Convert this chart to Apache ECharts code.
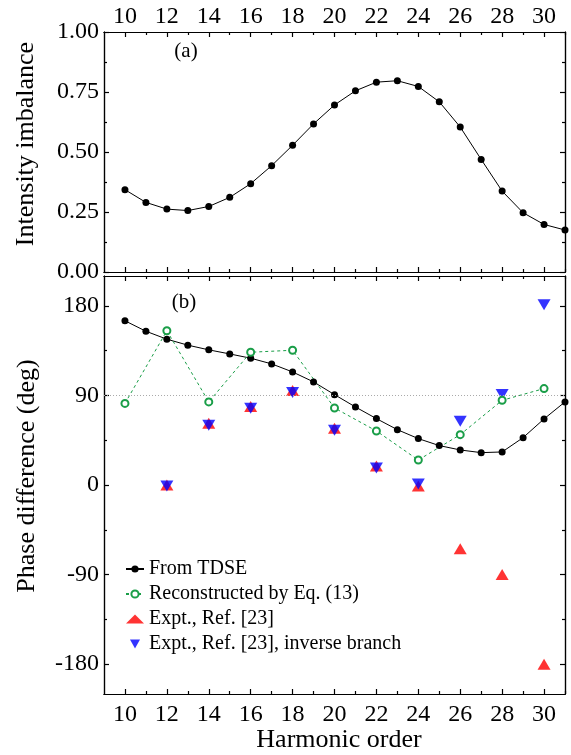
<!DOCTYPE html>
<html>
<head>
<meta charset="utf-8">
<script src="https://cdn.jsdelivr.net/npm/echarts@6/dist/echarts.min.js"></script>
<style>
  html, body { margin: 0; padding: 0; background: #fff; }
  #chart { width: 571px; height: 755px; }
</style>
</head>
<body>
<div id="chart"></div>
<script>
// harmonic orders used by the TDSE curves
var orders = [10, 11, 12, 13, 14, 15, 16, 17, 18, 19, 20, 21, 22, 23, 24, 25, 26, 27, 28, 29, 30, 31];
// panel (a): intensity imbalance
var imbalance = [0.343, 0.290, 0.262, 0.256, 0.273, 0.311, 0.368, 0.443, 0.528, 0.617, 0.696,
  0.755, 0.791, 0.797, 0.773, 0.709, 0.604, 0.469, 0.337, 0.247, 0.198, 0.175];
// panel (b): phase difference from TDSE
var tdsePhase = [165, 154.5, 146.5, 140.5, 135.8, 131.7, 127.4, 121.7, 113.6, 103.6, 90.8,
  78.4, 66.7, 55.6, 46.6, 39.6, 35.2, 32.5, 33.2, 47.6, 66.4, 83.5];
// reconstructed by Eq. (13), even orders
var evenOrders = [10, 12, 14, 16, 18, 20, 22, 24, 26, 28, 30];
var reconPhase = [82, 155, 83.5, 133.4, 135.4, 77.4, 54.3, 25.1, 50.6, 85.1, 96.9];
// experiment, Ref. [23]
var exptOrders = [12, 14, 16, 18, 20, 22, 24, 26, 28, 30];
var exptPhase = [0, 62, 79, 95, 57, 19, -1, -64, -90, -180];
var inversePhase = [-1, 60, 77, 93, 55, 17, 1, 64, 91, 181];

// ticks / labels
var xMajor = [10, 12, 14, 16, 18, 20, 22, 24, 26, 28, 30];
var xMinor = [11, 13, 15, 17, 19, 21, 23, 25, 27, 29, 31];
var yTopMajor = [0, 0.25, 0.5, 0.75, 1];
var yTopMinor = [0.125, 0.375, 0.625, 0.875];
var yBotMajor = [-180, -90, 0, 90, 180];
var yBotMinor = [-135, -45, 45, 135];

var FONT = 'Liberation Serif';

function pairs(xs, ys) {
  return xs.map(function (x, i) { return [x, ys[i]]; });
}

function xAx(grid, pos, ticks, len, labels, margin) {
  return {
    type: 'value', gridIndex: grid, position: pos, min: 9, max: 31,
    axisLine: { show: true, onZero: false, lineStyle: { color: '#000', width: 1.2 } },
    axisTick: { show: true, inside: true, length: len, customValues: ticks, lineStyle: { color: '#000', width: 1.2 } },
    axisLabel: labels ? { show: true, customValues: labels, margin: margin, fontFamily: FONT, fontSize: 24, color: '#000' } : { show: false },
    splitLine: { show: false }
  };
}

function yAx(grid, pos, min, max, ticks, len, labels, fmt) {
  return {
    type: 'value', gridIndex: grid, position: pos, min: min, max: max,
    axisLine: { show: true, onZero: false, lineStyle: { color: '#000', width: 1.2 } },
    axisTick: { show: true, inside: true, length: len, customValues: ticks, lineStyle: { color: '#000', width: 1.2 } },
    axisLabel: labels ? { show: true, customValues: labels, margin: 5, fontFamily: FONT, fontSize: 24, color: '#000', formatter: fmt } : { show: false },
    splitLine: { show: false }
  };
}

var chart = echarts.init(document.getElementById('chart'), null, { renderer: 'canvas' });

var option = {
  backgroundColor: '#ffffff',
  animation: false,
  grid: [
    { left: 104, right: 6, top: 32, height: 240 },
    { left: 104, right: 6, top: 276, height: 418 }
  ],
  xAxis: [
    xAx(0, 'top', xMajor, 5, xMajor, 3),
    xAx(0, 'top', xMinor, 3),
    xAx(0, 'bottom', xMajor, 5),
    xAx(0, 'bottom', xMinor, 3),
    xAx(1, 'top', xMajor, 5),
    xAx(1, 'top', xMinor, 3),
    xAx(1, 'bottom', xMajor, 5, xMajor, 9),
    xAx(1, 'bottom', xMinor, 3)
  ],
  yAxis: [
    yAx(0, 'left', 0, 1, yTopMajor, 5, yTopMajor, function (v) { return v.toFixed(2); }),
    yAx(0, 'left', 0, 1, yTopMinor, 3),
    yAx(0, 'right', 0, 1, yTopMajor, 5),
    yAx(0, 'right', 0, 1, yTopMinor, 3),
    yAx(1, 'left', -210, 210, yBotMajor, 5, yBotMajor, function (v) { return String(v); }),
    yAx(1, 'left', -210, 210, yBotMinor, 3),
    yAx(1, 'right', -210, 210, yBotMajor, 5),
    yAx(1, 'right', -210, 210, yBotMinor, 3)
  ],
  legend: {
    orient: 'vertical', left: 120, top: 554,
    itemWidth: 18, itemHeight: 9, itemGap: 5,
    textStyle: { fontFamily: FONT, fontSize: 20, color: '#000', lineHeight: 20 },
    data: ['From TDSE', 'Reconstructed by Eq. (13)', 'Expt., Ref. [23]', 'Expt., Ref. [23], inverse branch']
  },
  graphic: [
    { type: 'text', x: 26, y: 144, rotation: Math.PI / 2,
      style: { text: 'Intensity imbalance', font: '26px "Liberation Serif"', fill: '#000', align: 'center', verticalAlign: 'middle' } },
    { type: 'text', x: 27, y: 476, rotation: Math.PI / 2,
      style: { text: 'Phase difference (deg)', font: '26px "Liberation Serif"', fill: '#000', align: 'center', verticalAlign: 'middle' } },
    { type: 'text', x: 339, y: 740,
      style: { text: 'Harmonic order', font: '26px "Liberation Serif"', fill: '#000', align: 'center', verticalAlign: 'middle' } },
    { type: 'text', x: 186, y: 51,
      style: { text: '(a)', font: '21px "Liberation Serif"', fill: '#000', align: 'center', verticalAlign: 'middle' } },
    { type: 'text', x: 184, y: 302,
      style: { text: '(b)', font: '21px "Liberation Serif"', fill: '#000', align: 'center', verticalAlign: 'middle' } }
  ],
  series: [
    {
      name: 'From TDSE', type: 'line', xAxisIndex: 0, yAxisIndex: 0,
      data: pairs(orders, imbalance),
      symbol: 'circle', symbolSize: 7,
      itemStyle: { color: '#000' }, lineStyle: { color: '#000', width: 1 }
    },
    {
      name: 'From TDSE', type: 'line', xAxisIndex: 6, yAxisIndex: 4,
      data: pairs(orders, tdsePhase),
      symbol: 'circle', symbolSize: 7,
      itemStyle: { color: '#000' }, lineStyle: { color: '#000', width: 1 },
      markLine: {
        silent: true, symbol: 'none', label: { show: false },
        lineStyle: { color: '#aaa', type: [1, 2], width: 1 },
        data: [{ yAxis: 90 }]
      }
    },
    {
      name: 'Reconstructed by Eq. (13)', type: 'line', xAxisIndex: 6, yAxisIndex: 4,
      data: pairs(evenOrders, reconPhase),
      symbol: 'emptyCircle', symbolSize: 7,
      itemStyle: { color: '#1a9e48', borderWidth: 1.6 },
      lineStyle: { color: '#1a9e48', width: 1, type: [3, 3] }
    },
    {
      name: 'Expt., Ref. [23]', type: 'scatter', xAxisIndex: 6, yAxisIndex: 4,
      data: pairs(exptOrders, exptPhase),
      symbol: 'triangle', symbolSize: [13, 11],
      itemStyle: { color: '#ff0000' }
    },
    {
      name: 'Expt., Ref. [23], inverse branch', type: 'scatter', xAxisIndex: 6, yAxisIndex: 4,
      data: pairs(exptOrders, inversePhase),
      symbol: 'path://M0,0 L10,0 L5,9 Z', symbolSize: [13, 11],
      itemStyle: { color: '#0000ff' }
    }
  ]
};

chart.setOption(option);
</script>
</body>
</html>
